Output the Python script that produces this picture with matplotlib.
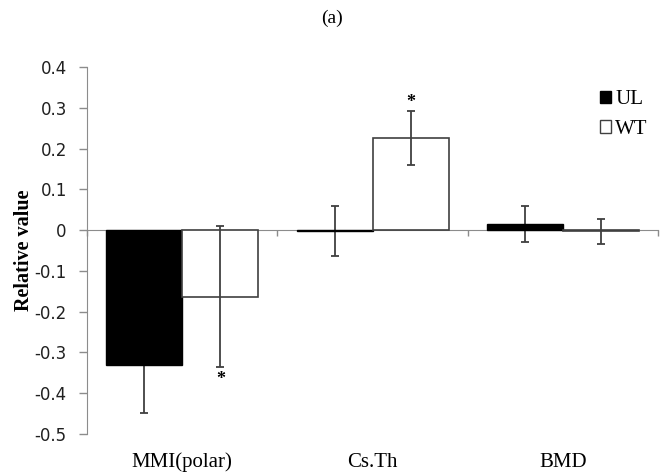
import matplotlib
matplotlib.use("Agg")
import matplotlib.pyplot as plt
import numpy as np
from matplotlib.patches import Patch
import matplotlib.transforms as mtransforms

categories = ["MMI(polar)", "Cs.Th", "BMD"]
ul_values = [-0.331, -0.003, 0.015]
ul_errors = [0.118, 0.061, 0.043]
wt_values = [-0.163, 0.226, -0.003]
wt_errors = [0.173, 0.067, 0.031]
# significance markers: (category index, series, side)
stars = [(0, "WT", "below"), (1, "WT", "above")]
yticks = [0.4, 0.3, 0.2, 0.1, 0, -0.1, -0.2, -0.3, -0.4, -0.5]
ytick_labels = ["0.4", "0.3", "0.2", "0.1", "0", "-0.1", "-0.2", "-0.3", "-0.4", "-0.5"]

plt.rcParams['font.family'] = ['Liberation Serif', 'DejaVu Serif']

fig = plt.figure(figsize=(6.65, 4.75), dpi=100)
ax = fig.add_axes([0.1308, 0.0863, 0.8594, 0.7727])

x = np.arange(len(categories))
w = 0.4
edge = '#404040'
ax.errorbar(x - w/2, ul_values, yerr=ul_errors, fmt='none', ecolor=edge, elinewidth=1.3,
            capsize=3, capthick=1.3, zorder=1.8)
ax.bar(x - w/2, ul_values, w, color='black', edgecolor='black', linewidth=1, zorder=2)
ax.bar(x + w/2, wt_values, w, color='white', edgecolor=edge, linewidth=1.2, zorder=2)
ax.errorbar(x + w/2, wt_values, yerr=wt_errors, fmt='none', ecolor=edge, elinewidth=1.3,
            capsize=3, capthick=1.3, zorder=3)

for ci, series, side in stars:
    vals = wt_values if series == "WT" else ul_values
    errs = wt_errors if series == "WT" else ul_errors
    xs = ci + (w/2 if series == "WT" else -w/2)
    if side == "below":
        ax.annotate("*", (xs, vals[ci] - errs[ci]), xytext=(0, -3), textcoords='offset points',
                    ha='center', va='top', fontsize=13, fontweight='bold')
    else:
        ax.annotate("*", (xs, vals[ci] + errs[ci]), xytext=(0, 0), textcoords='offset points',
                    ha='center', va='bottom', fontsize=13, fontweight='bold')

ax.set_xlim(-0.5, 2.5)
ax.set_ylim(-0.5, 0.4)
ax.set_yticks(yticks)
ax.set_yticklabels(ytick_labels, fontsize=12, family='DejaVu Sans', color='#202020')

spine_c = '#8c8c8c'
for s in ['top', 'right']:
    ax.spines[s].set_visible(False)
ax.spines['left'].set_color(spine_c)
ax.spines['bottom'].set_color(spine_c)
ax.spines['bottom'].set_position(('data', 0))
ax.spines['bottom'].set_zorder(1)
ax.tick_params(axis='y', color=spine_c, length=5.8, width=1, pad=8.7)
ax.set_xticks([-0.5, 0.5, 1.5, 2.5])
ax.set_xticklabels([])
ax.tick_params(axis='x', color=spine_c, length=4, width=1, direction='out')

trans = mtransforms.blended_transform_factory(ax.transData, ax.transAxes)
for i, c in enumerate(categories):
    ax.text(i, -0.051, c, transform=trans, ha='center', va='top', fontsize=15)

ax.set_ylabel("Relative value", fontsize=14.5, fontweight='bold')
ax.yaxis.set_label_coords(-0.093, 0.5)

fig.text(0.5, 0.962, "(a)", ha='center', va='center', fontsize=14)

handles = [Patch(facecolor='black', edgecolor='black', label='UL'),
           Patch(facecolor='white', edgecolor=edge, label='WT')]
leg = ax.legend(handles=handles, loc='upper left', bbox_to_anchor=(0.897, 0.936),
                frameon=False, fontsize=15, handlelength=0.55, handleheight=0.55,
                handletextpad=0.2, labelspacing=0.5, borderpad=0, borderaxespad=0)

fig.savefig("out.png", dpi=100)
